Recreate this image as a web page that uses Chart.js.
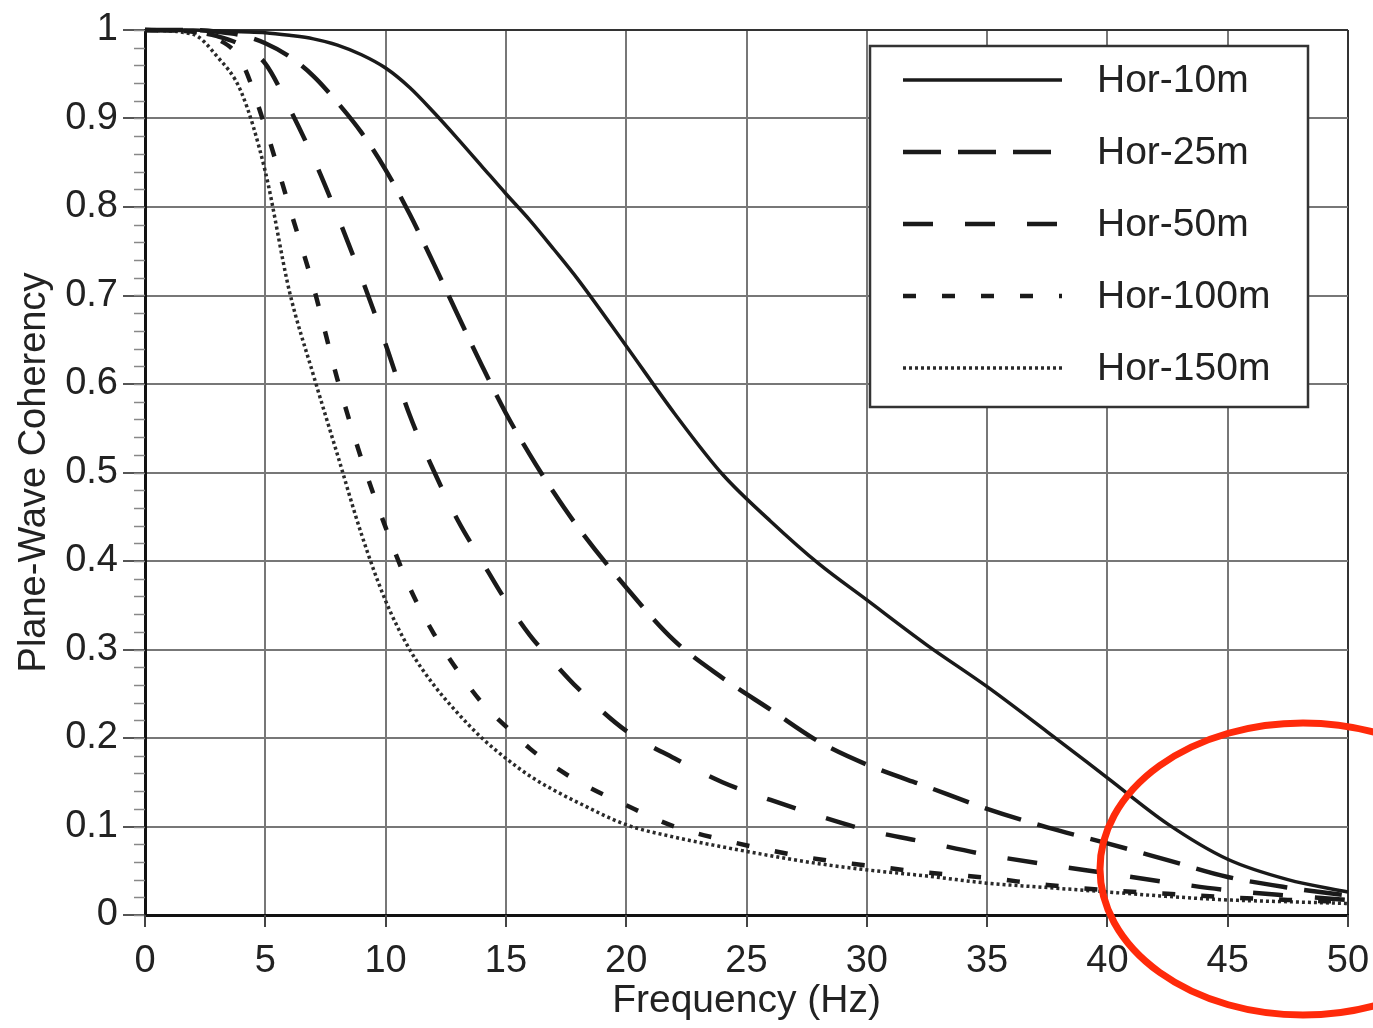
<!DOCTYPE html>
<html>
<head>
<meta charset="utf-8">
<title>Plane-Wave Coherency</title>
<script src="https://cdn.jsdelivr.net/npm/chart.js@4.4.1/dist/chart.umd.min.js"></script>
<style>
  html, body { margin: 0; padding: 0; background: #fff; overflow: hidden; }
  #wrap { width: 1373px; height: 1028px; }
  canvas { display: block; }
</style>
</head>
<body>
<div id="wrap"><canvas id="chartCoh"></canvas></div>
<script>
const freqs  = [0, 2, 3, 4, 5, 6, 7, 8, 9, 10, 11, 12, 13, 14, 15, 16, 17, 18, 20, 22, 24, 26, 28, 30, 32.5, 35, 37.5, 40, 42.5, 45, 47.5, 50];
const hor10  = [1, 1.0, 0.999, 0.998, 0.997, 0.994, 0.99, 0.983, 0.972, 0.957, 0.935, 0.907, 0.877, 0.846, 0.815, 0.785, 0.752, 0.718, 0.643, 0.567, 0.498, 0.445, 0.397, 0.356, 0.305, 0.258, 0.207, 0.155, 0.103, 0.063, 0.04, 0.026];
const hor25  = [1, 1.0, 0.998, 0.994, 0.985, 0.97, 0.948, 0.918, 0.884, 0.842, 0.792, 0.736, 0.678, 0.621, 0.567, 0.52, 0.477, 0.438, 0.37, 0.31, 0.268, 0.232, 0.196, 0.17, 0.145, 0.12, 0.099, 0.081, 0.062, 0.043, 0.031, 0.022];
const hor50  = [1, 0.998, 0.993, 0.983, 0.962, 0.912, 0.855, 0.79, 0.72, 0.645, 0.565, 0.502, 0.446, 0.40, 0.355, 0.316, 0.285, 0.256, 0.208, 0.177, 0.15, 0.13, 0.112, 0.096, 0.082, 0.068, 0.057, 0.047, 0.037, 0.028, 0.022, 0.017];
const hor100 = [1, 0.998, 0.99, 0.965, 0.89, 0.80, 0.71, 0.605, 0.515, 0.438, 0.37, 0.318, 0.276, 0.24, 0.213, 0.188, 0.168, 0.151, 0.124, 0.10, 0.085, 0.073, 0.063, 0.056, 0.048, 0.042, 0.034, 0.028, 0.024, 0.02, 0.017, 0.015];
const hor150 = [1, 0.995, 0.97, 0.93, 0.84, 0.705, 0.61, 0.52, 0.43, 0.355, 0.30, 0.26, 0.228, 0.20, 0.177, 0.157, 0.141, 0.127, 0.102, 0.088, 0.077, 0.067, 0.058, 0.051, 0.044, 0.036, 0.031, 0.026, 0.021, 0.017, 0.015, 0.013];

const seriesNames = ['Hor-10m', 'Hor-25m', 'Hor-50m', 'Hor-100m', 'Hor-150m'];
const xTickLabels = ['0', '5', '10', '15', '20', '25', '30', '35', '40', '45', '50'];
const yTickLabels = ['0', '0.1', '0.2', '0.3', '0.4', '0.5', '0.6', '0.7', '0.8', '0.9', '1'];

const FONT = '"Liberation Sans", Arial, Helvetica, sans-serif';

function series(label, vals, dash, width, color) {
    return {
        label: label,
        data: freqs.map((f, i) => ({ x: f, y: vals[i] })),
        borderColor: color,
        borderWidth: width,
        borderDash: dash,
        pointRadius: 0,
        cubicInterpolationMode: 'monotone',
        fill: false,
        clip: 6
    };
}

// minor ticks on the left axis, short major ticks under the x axis
const axisTicks = {
    id: 'axisTicks',
    afterDraw(chart) {
        const ys = chart.scales.y, xs = chart.scales.x, ctx = chart.ctx;
        const left = chart.chartArea.left, bottom = chart.chartArea.bottom;
        ctx.save();
        ctx.strokeStyle = '#888';
        ctx.lineWidth = 1.5;
        for (let k = 0; k <= 50; k++) {
            const py = Math.round(ys.getPixelForValue(k * 0.02)) + 0.5;
            ctx.beginPath(); ctx.moveTo(left - 11, py); ctx.lineTo(left, py); ctx.stroke();
        }
        ctx.strokeStyle = '#444';
        ctx.lineWidth = 2;
        xs.ticks.forEach(t => {
            const px = Math.round(xs.getPixelForValue(t.value));
            ctx.beginPath(); ctx.moveTo(px, bottom); ctx.lineTo(px, bottom + 12); ctx.stroke();
        });
        ctx.restore();
    }
};

// boxed legend in the upper right of the plot
const boxLegend = {
    id: 'boxLegend',
    afterDatasetsDraw(chart) {
        const ctx = chart.ctx;
        ctx.save();
        ctx.fillStyle = '#fff';
        ctx.fillRect(870, 46, 438, 361);
        ctx.strokeStyle = '#333';
        ctx.lineWidth = 2.5;
        ctx.strokeRect(870, 46, 438, 361);
        chart.data.datasets.forEach((ds, i) => {
            const yy = 80 + i * 72;
            ctx.setLineDash(ds.borderDash || []);
            ctx.strokeStyle = ds.borderColor;
            ctx.lineWidth = ds.borderWidth;
            ctx.beginPath(); ctx.moveTo(903, yy); ctx.lineTo(1062, yy); ctx.stroke();
            ctx.setLineDash([]);
            ctx.fillStyle = '#222';
            ctx.font = '39px ' + FONT;
            ctx.textBaseline = 'middle';
            ctx.fillText(ds.label, 1097, yy + 1);
        });
        ctx.restore();
    }
};

// red ellipse marking the tail
const redMark = {
    id: 'redMark',
    afterDraw(chart) {
        const ctx = chart.ctx;
        ctx.save();
        ctx.strokeStyle = '#ff2a0a';
        ctx.lineWidth = 7;
        ctx.beginPath();
        ctx.ellipse(1303, 869, 203, 146, 0, 0, Math.PI * 2);
        ctx.stroke();
        ctx.restore();
    }
};

const ctxCoh = document.getElementById('chartCoh');
new Chart(ctxCoh, {
    type: 'line',
    data: {
        datasets: [
            series(seriesNames[0], hor10,  [],       3.5, '#1a1a1a'),
            series(seriesNames[1], hor25,  [38, 17], 4.5, '#1a1a1a'),
            series(seriesNames[2], hor50,  [30, 32], 4.5, '#1a1a1a'),
            series(seriesNames[3], hor100, [13, 26], 4.5, '#1a1a1a'),
            series(seriesNames[4], hor150, [3, 3],   3.5, '#2a2a2a')
        ]
    },
    options: {
        responsive: true,
        maintainAspectRatio: false,
        animation: false,
        layout: { padding: { top: 30, right: 25, left: 0, bottom: 0 } },
        plugins: { legend: { display: false }, tooltip: { enabled: false } },
        scales: {
            x: {
                type: 'linear', min: 0, max: 50,
                afterFit: s => { s.height = 113; },
                ticks: {
                    stepSize: 5, autoSkip: false, maxRotation: 0, padding: 2,
                    color: '#222', font: { family: FONT, size: 38 },
                    callback: (v, i) => xTickLabels[i]
                },
                grid: {
                    color: c => (c.tick && c.tick.value === 50 ? '#333' : '#777'),
                    lineWidth: 2, tickLength: 22, tickColor: 'rgba(0,0,0,0)'
                },
                border: { color: '#111', width: 3 },
                title: {
                    display: true, text: 'Frequency (Hz)', color: '#222',
                    font: { family: FONT, size: 39 }, padding: { top: 0, bottom: 3 }
                }
            },
            y: {
                min: 0, max: 1,
                afterFit: s => { s.width = 145; },
                ticks: {
                    stepSize: 0.1, autoSkip: false, padding: 5,
                    color: '#222', font: { family: FONT, size: 38 },
                    callback: (v, i) => yTickLabels[i]
                },
                grid: {
                    color: c => (c.tick && c.tick.value === 1 ? '#333' : '#777'),
                    lineWidth: 2, tickLength: 22, tickColor: '#555'
                },
                border: { color: '#111', width: 3 },
                title: {
                    display: true, text: 'Plane-Wave Coherency', color: '#222',
                    font: { family: FONT, size: 38 }, padding: { top: 12, bottom: 0 }
                }
            }
        }
    },
    plugins: [axisTicks, boxLegend, redMark]
});
</script>
</body>
</html>
